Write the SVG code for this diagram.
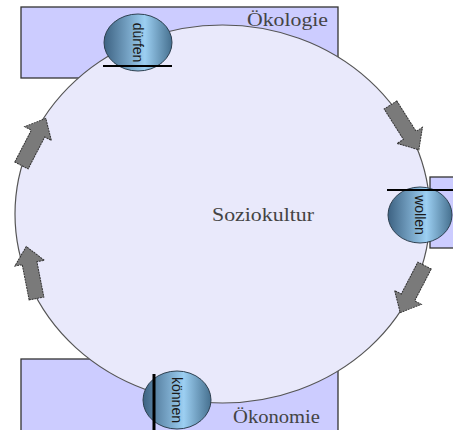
<svg xmlns="http://www.w3.org/2000/svg" width="453" height="430" viewBox="0 0 453 430">
<defs>
<linearGradient id="ball" x1="0" y1="0" x2="1" y2="0">
<stop offset="0" stop-color="#3d6282"/>
<stop offset="0.6" stop-color="#9ccff2"/>
<stop offset="1" stop-color="#46708f"/>
</linearGradient>
<linearGradient id="ballv" x1="0" y1="0" x2="1" y2="0">
<stop offset="0" stop-color="#3d6282"/>
<stop offset="0.6" stop-color="#9ccff2"/>
<stop offset="1" stop-color="#46708f"/>
</linearGradient>
<polygon id="arr" points="0,-7.5 36,-7.5 36,-15 53,0 36,15 36,7.5 0,7.5"/>
</defs>
<style>
.sphere{fill:#ccccff;stroke:#333;stroke-width:1.3}
.main{fill:#e9e9fb;stroke:#555;stroke-width:1.2}
.ball{fill:url(#ball);stroke:#2d4050;stroke-width:1}
.bar{stroke:#000;stroke-width:2}
.serif{font-family:"Liberation Serif","Times New Roman",serif;fill:#444}
.sans{font-family:"Liberation Sans",Arial,sans-serif;font-size:14px;fill:#1a1a1a;text-anchor:middle}
.arrow{fill:#7a7a7a;stroke:#333;stroke-width:1;stroke-dasharray:2,0.8}
</style>
<g id="oekologie">
<rect class="sphere" x="21" y="7" width="317" height="71"/>
<text class="serif" x="247" y="26" font-size="18" textLength="81" lengthAdjust="spacingAndGlyphs">Ökologie</text>
</g>
<g id="wollen-sphere">
<rect class="sphere" x="430" y="177" width="30" height="71"/>
</g>
<g id="oekonomie">
<rect class="sphere" x="21" y="359" width="317" height="80"/>
</g>
<g id="soziokultur">
<ellipse class="main" cx="222.5" cy="214" rx="207.5" ry="189"/>
<text class="serif" x="212" y="221" font-size="18" textLength="102" lengthAdjust="spacingAndGlyphs">Soziokultur</text>
</g>
<g id="oekonomie-label">
<text class="serif" x="233" y="423" font-size="18" textLength="87" lengthAdjust="spacingAndGlyphs">Ökonomie</text>
</g>
<g id="duerfen">
<ellipse class="ball" cx="138" cy="42.5" rx="34" ry="28.5"/>
<line class="bar" x1="103" y1="66" x2="172" y2="66"/>
<text class="sans" transform="translate(138,42.5) rotate(90)" x="0" y="5">dürfen</text>
</g>
<g id="wollen">
<ellipse class="ball" cx="420" cy="215" rx="32" ry="28"/>
<line class="bar" x1="387" y1="190" x2="453" y2="190"/>
<text class="sans" transform="translate(420,215) rotate(90)" x="0" y="5">wollen</text>
</g>
<g id="koennen">
<ellipse class="ball" cx="177" cy="400" rx="34" ry="29"/>
<line class="bar" x1="154" y1="374" x2="154" y2="430" style="stroke-width:3"/>
<text class="sans" transform="translate(177,400) rotate(90)" x="0" y="5">können</text>
</g>
<g id="connectors">
<use href="#arr" class="arrow" transform="translate(390.5,105) rotate(57.65)"/>
<use href="#arr" class="arrow" transform="translate(424.5,265.5) rotate(117.3)"/>
<use href="#arr" class="arrow" transform="translate(36.5,298.5) rotate(-101.1)"/>
<use href="#arr" class="arrow" transform="translate(21.5,165.5) rotate(-62.7)"/>
</g>
</svg>
